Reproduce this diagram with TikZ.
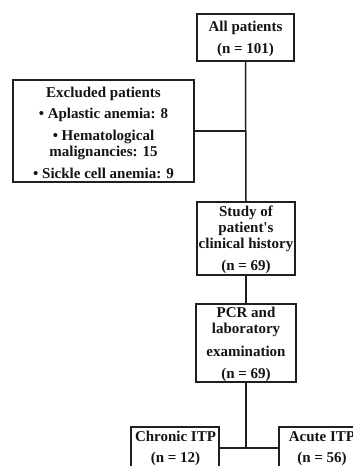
\documentclass[tikz,border=0pt]{standalone}
\usepackage{fontspec}
\setmainfont{Liberation Serif}
\newcommand\topstrut{\rule{0pt}{14pt}}
\begin{document}
\begin{tikzpicture}[x=1pt,y=-1pt,
  box/.style={draw=black!88, line width=1.5pt, rectangle, inner sep=0pt, align=center,
    font=\fontsize{15}{16}\selectfont\bfseries, text=black!92},
  txt/.style={inner sep=0pt, align=center, font=\fontsize{15}{16}\selectfont\bfseries, text=black!92},
  conn/.style={draw=black!88, line width=1.5pt}]
\useasboundingbox (0,0) rectangle (353,466);
\clip (0,0) rectangle (353,466);
\fill[white] (0,0) rectangle (353,466);

\node[box, minimum width=97pt, minimum height=47pt] (all) at (245.5,37.5)
  {\topstrut All patients\\[6pt](n = 101)};
\node[box, minimum width=181pt, minimum height=102pt] (excl) at (103.5,131)
  {\topstrut Excluded patients\\[5pt]• Aplastic anemia: 8\\[6pt]• Hematological\\malignancies: 15\\[6pt]• Sickle cell anemia: 9};
\node[box, minimum width=98pt, minimum height=73pt] (study) at (246,238.5)
  {\topstrut Study of\\patient\textquotesingle s\\clinical history\\[6pt](n = 69)};
\node[box, minimum width=100pt, minimum height=78pt] (pcr) at (246,343)
  {\topstrut PCR and\\laboratory\\[7pt]examination\\[6pt](n = 69)};
\node[box, minimum width=88pt, minimum height=80pt] (chronic) at (175,467) {};
\node[box, minimum width=88pt, minimum height=80pt] (acute) at (323,467) {};
\node[txt] (chronictxt) at (175.5,447) {\topstrut Chronic ITP\\[5pt](n = 12)};
\node[txt] (acutetxt) at (322,447) {\topstrut Acute ITP\\[5pt](n = 56)};

\coordinate (ex) at (246,131);
\coordinate (j) at (246,448);
\draw[conn] (all.south) -- (study.north);
\draw[conn] (excl.east |- ex) -- (ex);
\draw[conn] (study.south) -- (pcr.north);
\draw[conn] (pcr.south) -- (j);
\draw[conn] (chronic.east |- j) -- (acute.west |- j);
\end{tikzpicture}
\end{document}
